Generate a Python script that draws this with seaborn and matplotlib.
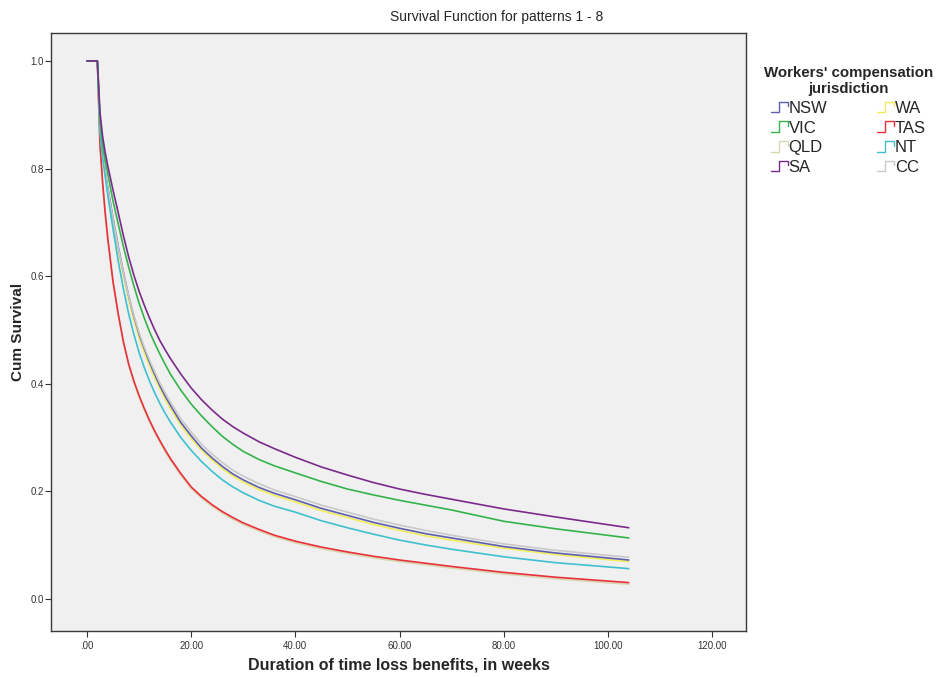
import numpy as np
import pandas as pd
import matplotlib
matplotlib.use("Agg")
import matplotlib.pyplot as plt
import seaborn as sns
from matplotlib.lines import Line2D
from matplotlib.legend_handler import HandlerBase
from matplotlib.ticker import FuncFormatter

# ---- data ----
weeks = [0, 2, 2.5, 3, 3.5, 4, 5, 6, 7, 8, 9, 10, 11, 12, 13, 14, 15, 16,
         18, 20, 22, 24, 26, 28, 30, 33, 36, 40, 45, 50, 55, 60, 65, 70, 80, 90, 104]

nsw = [1, 1, 0.88, 0.83, 0.795, 0.765, 0.708, 0.655, 0.607, 0.563, 0.525, 0.492, 0.465, 0.44, 0.417, 0.396, 0.377, 0.36,
       0.328, 0.303, 0.28, 0.262, 0.246, 0.232, 0.221, 0.207, 0.196, 0.184, 0.168, 0.155, 0.142, 0.131, 0.121, 0.113, 0.097, 0.085, 0.072]
vic = [1, 1, 0.895, 0.845, 0.815, 0.79, 0.74, 0.697, 0.655, 0.617, 0.582, 0.55, 0.522, 0.497, 0.475, 0.455, 0.436, 0.418,
       0.388, 0.362, 0.34, 0.32, 0.302, 0.287, 0.274, 0.259, 0.247, 0.234, 0.218, 0.204, 0.193, 0.183, 0.174, 0.165, 0.144, 0.13, 0.113]
qld = [1, 1, 0.842, 0.772, 0.715, 0.667, 0.587, 0.527, 0.475, 0.434, 0.402, 0.375, 0.351, 0.329, 0.309, 0.291, 0.274, 0.258,
       0.23, 0.205, 0.187, 0.172, 0.159, 0.148, 0.138, 0.126, 0.115, 0.104, 0.093, 0.084, 0.076, 0.069, 0.063, 0.057, 0.046, 0.037, 0.027]
sa  = [1, 1, 0.905, 0.86, 0.83, 0.805, 0.76, 0.718, 0.675, 0.636, 0.602, 0.572, 0.546, 0.522, 0.50, 0.48, 0.463, 0.447,
       0.418, 0.392, 0.37, 0.351, 0.334, 0.32, 0.308, 0.292, 0.279, 0.263, 0.245, 0.23, 0.216, 0.204, 0.194, 0.185, 0.167, 0.152, 0.132]
wa  = [1, 1, 0.875, 0.825, 0.79, 0.758, 0.70, 0.647, 0.60, 0.556, 0.518, 0.485, 0.458, 0.433, 0.41, 0.39, 0.371, 0.354,
       0.323, 0.298, 0.276, 0.258, 0.242, 0.228, 0.217, 0.203, 0.192, 0.18, 0.164, 0.151, 0.138, 0.127, 0.117, 0.109, 0.094, 0.082, 0.069]
tas = [1, 1, 0.845, 0.775, 0.718, 0.67, 0.59, 0.53, 0.478, 0.437, 0.405, 0.378, 0.354, 0.332, 0.312, 0.294, 0.277, 0.261,
       0.233, 0.208, 0.19, 0.175, 0.162, 0.151, 0.141, 0.129, 0.118, 0.107, 0.096, 0.087, 0.079, 0.072, 0.066, 0.06, 0.049, 0.04, 0.030]
nt  = [1, 1, 0.87, 0.82, 0.785, 0.75, 0.688, 0.628, 0.576, 0.53, 0.492, 0.458, 0.43, 0.405, 0.383, 0.363, 0.345, 0.329,
       0.30, 0.276, 0.255, 0.237, 0.221, 0.208, 0.197, 0.183, 0.172, 0.161, 0.145, 0.132, 0.12, 0.109, 0.10, 0.092, 0.078, 0.067, 0.056]
cc  = [1, 1, 0.88, 0.83, 0.795, 0.763, 0.706, 0.653, 0.606, 0.563, 0.527, 0.495, 0.468, 0.444, 0.422, 0.401, 0.383, 0.366,
       0.335, 0.31, 0.287, 0.269, 0.253, 0.239, 0.228, 0.214, 0.202, 0.19, 0.174, 0.161, 0.148, 0.137, 0.127, 0.118, 0.102, 0.09, 0.077]

jurisdictions = ["NSW", "VIC", "QLD", "SA", "WA", "TAS", "NT", "CC"]
series = [nsw, vic, qld, sa, wa, tas, nt, cc]
colors = {"NSW": "#5f5fb0", "VIC": "#34b34a", "QLD": "#d9d6b2", "SA": "#7a2a8a",
          "WA": "#f2ee5a", "TAS": "#e8303a", "NT": "#3fc0cf", "CC": "#c9c9c9"}
draw_order = ["QLD", "TAS", "WA", "NSW", "CC", "NT", "VIC", "SA"]

rows = []
for name, vals in zip(jurisdictions, series):
    assert len(vals) == len(weeks), name
    for t, s in zip(weeks, vals):
        rows.append({"weeks": t, "surv": s, "jur": name})
df = pd.DataFrame(rows)

sns.set_style("white")
plt.rcParams["font.family"] = ["Liberation Sans", "DejaVu Sans"]

fig = plt.figure(figsize=(9.43, 6.77), dpi=100)
ax = fig.add_axes([51 / 943, 1 - 631 / 677, (746 - 51) / 943, (631 - 33) / 677])
ax.set_facecolor("#f0f0f0")

for name in draw_order:
    sub = df[df["jur"] == name]
    sns.lineplot(data=sub, x="weeks", y="surv", color=colors[name], lw=1.2,
                 estimator=None, sort=False, ax=ax, legend=False)

ax.set_xlim(-6.9, 126.5)
ax.set_ylim(-0.06, 1.052)
ax.set_xticks([0, 20, 40, 60, 80, 100, 120])
ax.set_yticks([0.0, 0.2, 0.4, 0.6, 0.8, 1.0])
ax.xaxis.set_major_formatter(FuncFormatter(lambda v, p: ".00" if v == 0 else f"{v:.2f}"))
ax.yaxis.set_major_formatter(FuncFormatter(lambda v, p: f"{v:.1f}"))
ax.tick_params(axis="both", labelsize=7, colors="#333333", length=4, width=0.8,
               bottom=True, left=True, direction="out", pad=3)
ax.tick_params(axis="y", pad=1)
for sp in ax.spines.values():
    sp.set_color("#3a3a3a")
    sp.set_linewidth(1.0)

ax.set_xlabel("Duration of time loss benefits, in weeks", fontsize=11.5, fontweight="bold", labelpad=5)
ax.set_ylabel("Cum Survival", fontsize=11, fontweight="bold", labelpad=4)
fig.text(497 / 943, 1 - 17 / 677, "Survival Function for patterns 1 - 8", fontsize=10,
         ha="center", va="center")


class StepHandler(HandlerBase):
    def create_artists(self, legend, orig_handle, xdescent, ydescent, width, height, fontsize, trans):
        x0 = -xdescent
        y0 = -ydescent
        xs = [x0, x0 + width * 0.45, x0 + width * 0.45, x0 + width, x0 + width]
        ys = [y0 + height * 0.05, y0 + height * 0.05, y0 + height * 0.95, y0 + height * 0.95, y0 + height * 0.55]
        ln = Line2D(xs, ys, color=orig_handle.get_color(), lw=1.0)
        ln.set_transform(trans)
        return [ln]


handles = [Line2D([], [], color=colors[n]) for n in jurisdictions]
leg = fig.legend(handles, jurisdictions, loc="upper left", bbox_to_anchor=(764 / 943, 1 - 66 / 677),
                 ncol=2, frameon=False, fontsize=12, title="Workers' compensation\njurisdiction",
                 title_fontproperties={"size": 10.8, "weight": "bold"},
                 handler_map={Line2D: StepHandler()}, handlelength=1.0, handletextpad=0.05,
                 columnspacing=3.0, labelspacing=0.28, borderpad=0.0, borderaxespad=0.0)
leg.get_title().set_multialignment("center")

fig.savefig("out.png", dpi=100, facecolor="white")
